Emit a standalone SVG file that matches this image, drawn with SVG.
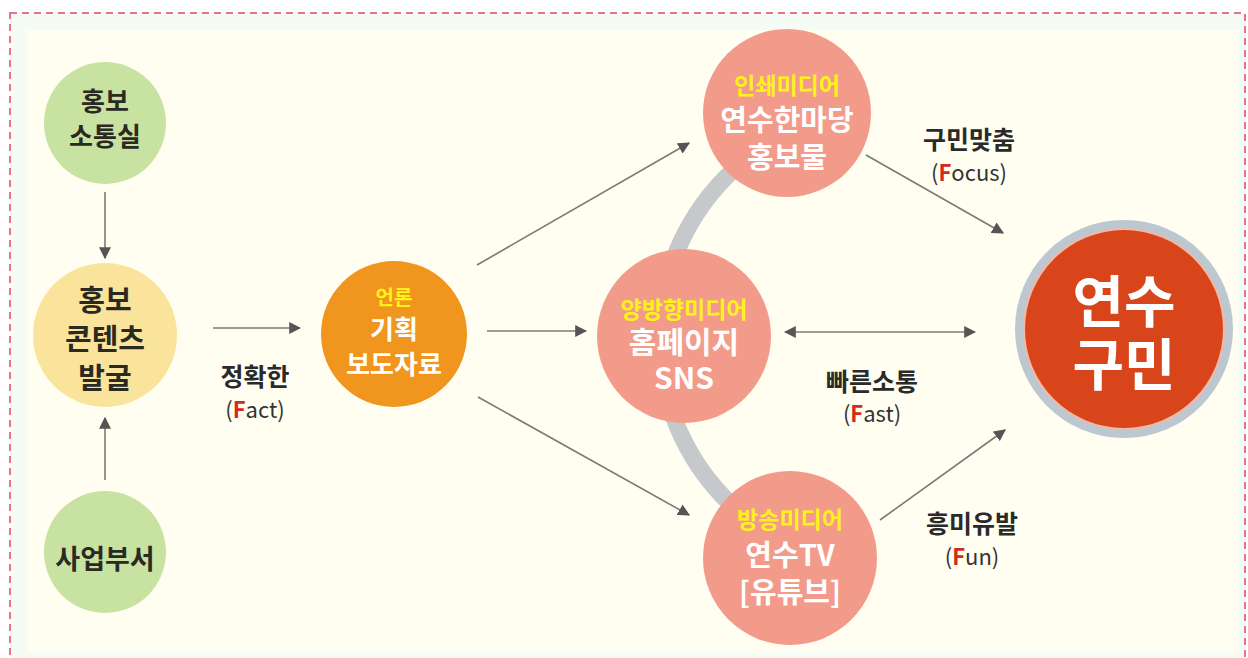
<svg xmlns="http://www.w3.org/2000/svg" width="1248" height="658" viewBox="0 0 1248 658">
  <defs>
    <marker id="ah" viewBox="0 0 10 10" refX="9" refY="5" markerWidth="12" markerHeight="12" markerUnits="userSpaceOnUse" orient="auto-start-reverse">
      <path d="M0,0 L10,5 L0,10 z" fill="#555"/>
    </marker>
    <style>
      text { font-family: "Noto Sans CJK KR", "Noto Sans", sans-serif; text-anchor: middle; dominant-baseline: central; font-weight: bold; }
      .dark { fill: #2a2a22; }
      .wht { fill: #ffffff; }
      .yel { fill: #fff21a; }
      .lbl { fill: #2a2a2a; font-size: 25px; }
      .sub { fill: #333; font-size: 22px; font-weight: normal; }
      .f { fill: #d42a1c; font-weight: bold; }
      .conn { stroke: #7a7a7a; stroke-width: 1.6; fill: none; marker-end: url(#ah); }
      .green { fill: #c8e2a2; }
      .pink { fill: #f39b8b; }
    </style>
  </defs>

  <rect x="0" y="0" width="1248" height="658" fill="#ffffff"/>
  <rect x="11" y="14" width="1233" height="660" fill="#f5fbf5"/>
  <rect x="28" y="30" width="1210" height="622" fill="#fffef1"/>
  <rect x="10" y="13" width="1235" height="670" fill="none" stroke="#e8738c" stroke-width="2" stroke-dasharray="7 5"/>

  <!-- grey arc linking the media circles -->
  <path id="arc" d="M 745 160 A 229 229 0 0 0 743 515" fill="none" stroke="#c6c9cc" stroke-width="17"/>

  <g id="connectors">
    <line class="conn" x1="105" y1="192" x2="105" y2="258"/>
    <line class="conn" x1="105" y1="480" x2="105" y2="418"/>
    <line class="conn" x1="213" y1="328" x2="300" y2="328"/>
    <line class="conn" x1="477" y1="265" x2="689" y2="143"/>
    <line class="conn" x1="487" y1="331" x2="586" y2="331"/>
    <line class="conn" x1="478" y1="397" x2="689" y2="515"/>
    <line class="conn" x1="785" y1="332" x2="975" y2="332" marker-start="url(#ah)"/>
    <line class="conn" x1="866" y1="155" x2="1003" y2="233"/>
    <line class="conn" x1="880" y1="520" x2="1005" y2="430"/>
  </g>

  <g id="label-fact">
    <text class="lbl" x="255" y="375">정확한</text>
    <text class="sub" x="255" y="408">(<tspan class="f">F</tspan>act)</text>
  </g>
  <g id="label-focus">
    <text class="lbl" x="969" y="138">구민맞춤</text>
    <text class="sub" x="969" y="171">(<tspan class="f">F</tspan>ocus)</text>
  </g>
  <g id="label-fast">
    <text class="lbl" x="872" y="380">빠른소통</text>
    <text class="sub" x="872" y="412">(<tspan class="f">F</tspan>ast)</text>
  </g>
  <g id="label-fun">
    <text class="lbl" x="972" y="522">흥미유발</text>
    <text class="sub" x="972" y="555">(<tspan class="f">F</tspan>un)</text>
  </g>

  <g id="node-hongbo-sotong">
    <circle class="green" cx="105" cy="123" r="61"/>
    <text class="dark" x="105" y="99" font-size="26">홍보</text>
    <text class="dark" x="105" y="134" font-size="26">소통실</text>
  </g>

  <g id="node-contents">
    <circle cx="105" cy="335" r="72" fill="#fae49c"/>
    <text class="dark" x="105" y="298" font-size="29">홍보</text>
    <text class="dark" x="105" y="337" font-size="29">콘텐츠</text>
    <text class="dark" x="105" y="376" font-size="29">발굴</text>
  </g>

  <g id="node-saeop">
    <circle class="green" cx="105" cy="552" r="61"/>
    <text class="dark" x="105" y="557" font-size="27">사업부서</text>
  </g>

  <g id="node-press">
    <circle cx="394" cy="334" r="73" fill="#f0961f"/>
    <text class="yel" x="394" y="296" font-size="20">언론</text>
    <text class="wht" x="394" y="327" font-size="26">기획</text>
    <text class="wht" x="394" y="362" font-size="26">보도자료</text>
  </g>

  <g id="node-print">
    <circle class="pink" cx="787" cy="113" r="84"/>
    <text class="yel" x="787" y="84" font-size="23">인쇄미디어</text>
    <text class="wht" x="787" y="118" font-size="29">연수한마당</text>
    <text class="wht" x="787" y="155" font-size="29">홍보물</text>
  </g>

  <g id="node-web">
    <circle class="pink" cx="684" cy="336" r="87"/>
    <text class="yel" x="684" y="308" font-size="23">양방향미디어</text>
    <text class="wht" x="684" y="340" font-size="30">홈페이지</text>
    <text class="wht" x="684" y="376" font-size="30">SNS</text>
  </g>

  <g id="node-tv">
    <circle class="pink" cx="790" cy="558" r="87"/>
    <text class="yel" x="790" y="518" font-size="23">방송미디어</text>
    <text class="wht" x="790" y="553" font-size="29">연수TV</text>
    <text class="wht" x="790" y="590" font-size="29">[유튜브]</text>
  </g>

  <g id="node-residents">
    <circle cx="1124" cy="329" r="109" fill="#bcc7cf"/>
    <circle cx="1124" cy="329" r="101" fill="#f3b8a8"/>
    <circle cx="1124" cy="329" r="99" fill="#d8451b"/>
    <text class="wht" x="1124" y="297" font-size="56">연수</text>
    <text class="wht" x="1124" y="360" font-size="56">구민</text>
  </g>
</svg>
